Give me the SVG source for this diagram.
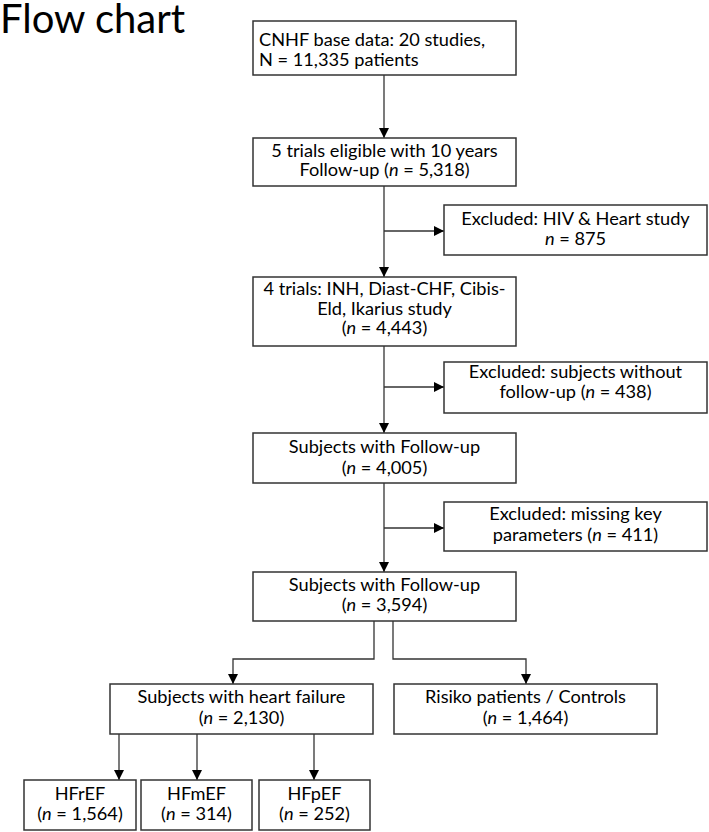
<svg xmlns="http://www.w3.org/2000/svg" width="709" height="832" viewBox="0 0 709 832">
<style>
.box{fill:#fff;stroke:#333;stroke-width:1.5}
.t{font-family:Lato,"Open Sans","DejaVu Sans",sans-serif;font-size:18.2px;fill:#000;text-anchor:middle}
.l{text-anchor:start}
.i{font-style:italic}
.c{fill:none;stroke:#333;stroke-width:1.3}
.title{font-family:Lato,"Open Sans","DejaVu Sans",sans-serif;font-size:40px;fill:#000}
</style>
<defs>
<marker id="ah" markerUnits="userSpaceOnUse" markerWidth="10" markerHeight="10" refX="10" refY="5" orient="auto">
<path d="M0,0 L10,5 L0,10 z" fill="#000"/>
</marker>
</defs>
<rect width="709" height="832" fill="#fff"/>
<text class="title" x="0" y="33">Flow chart</text>

<g id="connectors">
<path class="c" d="M384,75 V138" marker-end="url(#ah)"/>
<path class="c" d="M384,186 V277" marker-end="url(#ah)"/>
<path class="c" d="M384,231 H444" marker-end="url(#ah)"/>
<path class="c" d="M384,346 V433" marker-end="url(#ah)"/>
<path class="c" d="M384,387 H444" marker-end="url(#ah)"/>
<path class="c" d="M384,483 V572" marker-end="url(#ah)"/>
<path class="c" d="M384,528 H444" marker-end="url(#ah)"/>
<path class="c" d="M374,621 V659 H233 V684" marker-end="url(#ah)"/>
<path class="c" d="M393,621 V659 H526 V684" marker-end="url(#ah)"/>
<path class="c" d="M119,734 V780" marker-end="url(#ah)"/>
<path class="c" d="M197,734 V780" marker-end="url(#ah)"/>
<path class="c" d="M314,734 V780" marker-end="url(#ah)"/>
</g>

<g id="n1">
<rect class="box" x="253" y="21" width="263" height="54"/>
<text class="t l" x="259" y="46">CNHF base data: 20 studies,</text>
<text class="t l" x="259" y="66">N = 11,335 patients</text>
</g>
<g id="n2">
<rect class="box" x="253" y="138" width="263" height="48"/>
<text class="t" x="384.5" y="157">5 trials eligible with 10 years</text>
<text class="t" x="384.5" y="176">Follow-up (<tspan class="i">n</tspan> = 5,318)</text>
</g>
<g id="x1">
<rect class="box" x="444" y="205" width="263" height="50"/>
<text class="t" x="575.5" y="225">Excluded: HIV &amp; Heart study</text>
<text class="t" x="575.5" y="245"><tspan class="i">n</tspan> = 875</text>
</g>
<g id="n3">
<rect class="box" x="253" y="277" width="263" height="69"/>
<text class="t" x="384.5" y="295">4 trials: INH, Diast-CHF, Cibis-</text>
<text class="t" x="384.5" y="314.5">Eld, Ikarius study</text>
<text class="t" x="384.5" y="334">(<tspan class="i">n</tspan> = 4,443)</text>
</g>
<g id="x2">
<rect class="box" x="444" y="362" width="263" height="51"/>
<text class="t" x="575.5" y="378">Excluded: subjects without</text>
<text class="t" x="575.5" y="398">follow-up (<tspan class="i">n</tspan> = 438)</text>
</g>
<g id="n4">
<rect class="box" x="253" y="433" width="263" height="50"/>
<text class="t" x="384.5" y="453">Subjects with Follow-up</text>
<text class="t" x="384.5" y="474">(<tspan class="i">n</tspan> = 4,005)</text>
</g>
<g id="x3">
<rect class="box" x="444" y="502" width="263" height="49"/>
<text class="t" x="575.5" y="520">Excluded: missing key</text>
<text class="t" x="575.5" y="541">parameters (<tspan class="i">n</tspan> = 411)</text>
</g>
<g id="n5">
<rect class="box" x="253" y="572" width="263" height="49"/>
<text class="t" x="384.5" y="591">Subjects with Follow-up</text>
<text class="t" x="384.5" y="611">(<tspan class="i">n</tspan> = 3,594)</text>
</g>
<g id="hf">
<rect class="box" x="110" y="684" width="263" height="50"/>
<text class="t" x="241.5" y="703">Subjects with heart failure</text>
<text class="t" x="241.5" y="724">(<tspan class="i">n</tspan> = 2,130)</text>
</g>
<g id="rc">
<rect class="box" x="394" y="684" width="263" height="50"/>
<text class="t" x="525.5" y="703">Risiko patients / Controls</text>
<text class="t" x="525.5" y="724">(<tspan class="i">n</tspan> = 1,464)</text>
</g>
<g id="hfr">
<rect class="box" x="24" y="780" width="112" height="50"/>
<text class="t" x="80" y="800">HFrEF</text>
<text class="t" x="80" y="820">(<tspan class="i">n</tspan> = 1,564)</text>
</g>
<g id="hfm">
<rect class="box" x="141" y="780" width="111" height="50"/>
<text class="t" x="196.5" y="800">HFmEF</text>
<text class="t" x="196.5" y="820">(<tspan class="i">n</tspan> = 314)</text>
</g>
<g id="hfp">
<rect class="box" x="259" y="780" width="111" height="50"/>
<text class="t" x="314.5" y="800">HFpEF</text>
<text class="t" x="314.5" y="820">(<tspan class="i">n</tspan> = 252)</text>
</g>
</svg>
